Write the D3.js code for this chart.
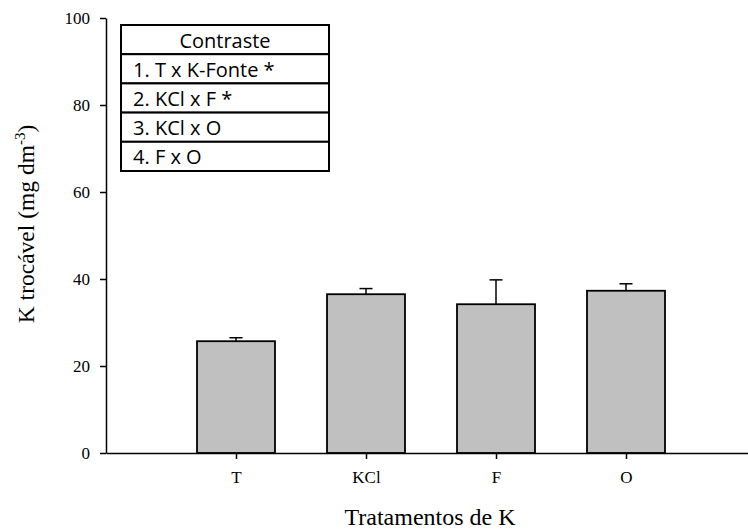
<!DOCTYPE html>
<html>
<head>
<meta charset="utf-8">
<script src="https://cdn.jsdelivr.net/npm/d3@7"></script>
<style>
  body { margin: 0; background: #fff; }
  svg { display: block; }
</style>
</head>
<body>
<div id="chart"></div>
<script>
// data
const categories = ['T', 'KCl', 'F', 'O'];
const means = [25.7, 36.5, 34.2, 37.3];
const errors = [0.8, 1.3, 5.6, 1.6];
const yTicks = [0, 20, 40, 60, 80, 100];
const contrastHeader = 'Contraste';
const contrastRows = ['1. T x K-Fonte *', '2. KCl x F *', '3. KCl x O', '4. F x O'];

const width = 748, height = 530;
const serif = '"Liberation Serif", "Times New Roman", serif';

const svg = d3.select('#chart')
  .append('svg')
  .attr('width', width)
  .attr('height', height);

// category positions 1..4 on a 0..5 axis
const x = d3.scaleLinear().domain([0, 5]).range([106, 756]);
const y = d3.scaleLinear().domain([0, 100]).range([453, 18]);
const barW = x(0.6) - x(0);

// bars
svg.selectAll('rect.bar')
  .data(means)
  .enter()
  .append('rect')
  .attr('class', 'bar')
  .attr('x', (d, i) => x(i + 1) - barW / 2)
  .attr('y', d => y(d))
  .attr('width', barW)
  .attr('height', d => y(0) - y(d))
  .attr('fill', '#c0c0c0')
  .attr('stroke', '#000')
  .attr('stroke-width', 1.8);

// error bars (upper only)
const err = svg.selectAll('g.err')
  .data(means)
  .enter()
  .append('g')
  .attr('class', 'err')
  .attr('stroke', '#000')
  .attr('stroke-width', 1.5);

err.append('line')
  .attr('x1', (d, i) => x(i + 1))
  .attr('x2', (d, i) => x(i + 1))
  .attr('y1', d => y(d))
  .attr('y2', (d, i) => y(d + errors[i]));

err.append('line')
  .attr('x1', (d, i) => x(i + 1) - 6.5)
  .attr('x2', (d, i) => x(i + 1) + 6.5)
  .attr('y1', (d, i) => y(d + errors[i]))
  .attr('y2', (d, i) => y(d + errors[i]));

// axes
const yAxis = svg.append('g')
  .attr('transform', `translate(${x(0)},0)`)
  .call(d3.axisLeft(y).tickValues(yTicks).tickSize(6).tickSizeOuter(0).tickPadding(10));

const xAxis = svg.append('g')
  .attr('transform', `translate(0,${y(0)})`)
  .call(d3.axisBottom(x)
    .tickValues(categories.map((c, i) => i + 1))
    .tickFormat((d, i) => categories[i])
    .tickSize(6).tickSizeOuter(0).tickPadding(12));

[yAxis, xAxis].forEach(a => {
  a.selectAll('text').attr('font-family', serif).attr('font-size', 17).attr('fill', '#000');
  a.selectAll('line, path').attr('stroke', '#000').attr('stroke-width', 1.5);
});

// axis titles
svg.append('text')
  .attr('x', 430)
  .attr('y', 525)
  .attr('text-anchor', 'middle')
  .attr('font-family', serif)
  .attr('font-size', 24)
  .text('Tratamentos de K');

const yTitle = svg.append('text')
  .attr('transform', 'translate(34,224) rotate(-90)')
  .attr('text-anchor', 'middle')
  .attr('font-family', serif)
  .attr('font-size', 23.5);
yTitle.append('tspan').text('K trocável (mg dm');
yTitle.append('tspan').attr('font-size', 15).attr('dy', -9).text('-3');
yTitle.append('tspan').attr('dy', 9).text(')');

// contrast table
const tableX = 121, tableY = 25, tableW = 208, rowH = 29.2;
const rows = [contrastHeader].concat(contrastRows);

const table = svg.append('g');
table.selectAll('rect')
  .data(rows)
  .enter()
  .append('rect')
  .attr('x', tableX)
  .attr('y', (d, i) => tableY + i * rowH)
  .attr('width', tableW)
  .attr('height', rowH)
  .attr('fill', '#fff')
  .attr('stroke', '#000')
  .attr('stroke-width', 2);

table.selectAll('text')
  .data(rows)
  .enter()
  .append('text')
  .attr('x', (d, i) => i === 0 ? tableX + tableW / 2 : tableX + 12)
  .attr('y', (d, i) => tableY + i * rowH + 22.5)
  .attr('text-anchor', (d, i) => i === 0 ? 'middle' : 'start')
  .attr('font-family', '"Open Sans", "Noto Sans", sans-serif')
  .attr('font-size', 20)
  .attr('fill', '#000')
  .text(d => d);
</script>
</body>
</html>
